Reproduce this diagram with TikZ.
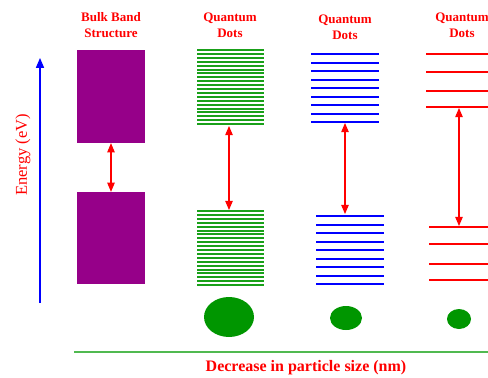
\documentclass[tikz,border=0pt]{standalone}
\usepackage{fontspec}
\setmainfont{Liberation Serif}
\usetikzlibrary{arrows}
\definecolor{bulkpurple}{RGB}{150,0,137}
\definecolor{dotgreen}{RGB}{0,150,0}
\definecolor{levelgreen}{RGB}{25,160,25}
\definecolor{axisgreen}{RGB}{80,185,80}
\begin{document}
\begin{tikzpicture}[line cap=butt,>=triangle 45,x=1pt,y=-1pt,
  title/.style={text=red,font=\fontsize{13}{16}\selectfont\bfseries,align=center},
  band/.style={fill=bulkpurple,minimum width=68pt,inner sep=0pt},
  gap/.style={<->,color=red,line width=1.1pt},
  level/.style={line width=2pt}]
\useasboundingbox (0,0) rectangle (488,378);
% energy axis
\draw[->,color=blue,line width=1.3pt] (40,303) -- (40,58);
\node[rotate=90,text=red,font=\fontsize{16.5}{16}\selectfont] (energy) at (23,155) {Energy (eV)};
% titles
\node[title] (bulktitle) at (111,25) {Bulk Band\\Structure};
\node[title] (qdtitle1) at (230,25) {Quantum\\Dots};
\node[title] (qdtitle2) at (345,27) {Quantum\\Dots};
\node[title] (qdtitle3) at (462,25) {Quantum\\Dots};
% bulk bands
\node[band,minimum height=93pt] (cb) at (111,96.5) {};
\node[band,minimum height=92pt] (vb) at (111,238) {};
\draw[gap] (cb.south) -- (vb.north);
% large dots
\foreach \i in {0,...,19}
\draw[level,color=levelgreen] (197,50+3.9*\i) -- (264,50+3.9*\i);
\foreach \i in {0,...,19}
\draw[level,color=levelgreen] (197,211+3.9*\i) -- (264,211+3.9*\i);
\coordinate (cba) at (229,126);
\coordinate (vba) at (229,210);
\draw[gap] (cba) -- (vba);
% medium dots
\foreach \i in {0,...,8}
\draw[level,color=blue] (311,54+8.5*\i) -- (379,54+8.5*\i);
\foreach \i in {0,...,8}
\draw[level,color=blue] (316,216+8.5*\i) -- (384,216+8.5*\i);
\coordinate (cbb) at (345,123);
\coordinate (vbb) at (345,214);
\draw[gap] (cbb) -- (vbb);
% small dots
\foreach \y in {54,72,91,107}
\draw[level,color=red] (426,\y) -- (488,\y);
\foreach \y in {227,244,264,280}
\draw[level,color=red] (429,\y) -- (488,\y);
\coordinate (cbc) at (459,108);
\coordinate (vbc) at (459,226);
\draw[gap] (cbc) -- (vbc);
% particles
\fill[dotgreen] (229,317) ellipse [x radius=25, y radius=20];
\fill[dotgreen] (346,318) ellipse [x radius=16, y radius=12];
\fill[dotgreen] (459,319) ellipse [x radius=12, y radius=10];
% size axis
\draw[color=axisgreen,line width=2pt] (74,352) -- (488,352);
\node[text=red,font=\fontsize{16}{16}\selectfont\bfseries] (sizelabel) at (306,368) {Decrease in particle size (nm)};
\end{tikzpicture}
\end{document}
